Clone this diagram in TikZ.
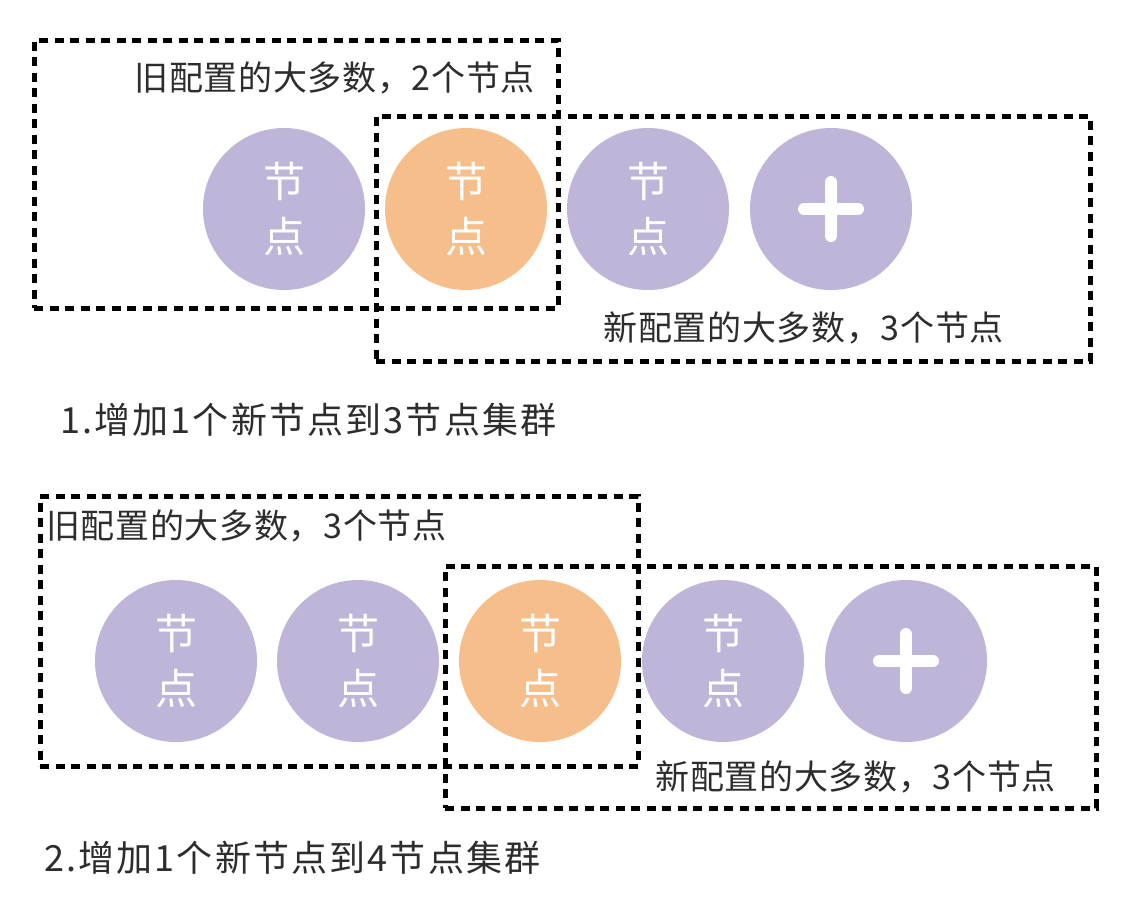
\documentclass[tikz,border=0pt]{standalone}
\usepackage{fontspec}
\setmainfont{Noto Sans CJK SC}
\definecolor{nodepurple}{RGB}{190,181,216}
\definecolor{nodeorange}{RGB}{246,190,139}
\definecolor{ink}{RGB}{45,45,45}
\begin{document}
\begin{tikzpicture}[x=1pt,y=-1pt,
  cnode/.style={circle, minimum size=162pt, inner sep=0pt, text=white, align=center,
     font=\fontsize{42}{55}\selectfont},
  purplenode/.style={cnode, fill=nodepurple},
  orangenode/.style={cnode, fill=nodeorange},
  groupbox/.style={draw=black, line width=4.5pt, dash pattern=on 9pt off 6.5pt},
  lbl/.style={text=ink, inner sep=0pt, font=\fontsize{34}{40}\selectfont\addfontfeatures{LetterSpace=2}},
  captiontext/.style={text=ink, inner sep=0pt, anchor=west, font=\fontsize{36}{40}\selectfont\addfontfeatures{LetterSpace=6}},
  plusmark/.style={draw=white, line width=12pt, line cap=round}
]
\useasboundingbox (0,0) rectangle (1142,906);
\fill[white] (0,0) rectangle (1142,906);

% ---------- part 1 ----------
\node[purplenode] (a1) at (284,209) {节\\点};
\node[orangenode] (a2) at (466,209) {节\\点};
\node[purplenode] (a3) at (648,209) {节\\点};
\node[purplenode] (a4) at (831,209) {};
\draw[plusmark] ([xshift=-27pt]a4.center) -- ([xshift=27pt]a4.center);
\draw[plusmark] ([yshift=-27pt]a4.center) -- ([yshift=27pt]a4.center);

\node[groupbox, minimum width=524pt, minimum height=268pt, anchor=north west] (old1) at (32,38) {};
\node[groupbox, minimum width=714pt, minimum height=245pt, anchor=north west] (new1) at (374,114) {};

\node[lbl, anchor=east] (old1l) at (535,78) {旧配置的大多数，2个节点};
\node[lbl, anchor=east] (new1l) at (1004,328) {新配置的大多数，3个节点};
\node[captiontext] (cap1) at (60,420) {1.增加1个新节点到3节点集群};

% ---------- part 2 ----------
\node[purplenode] (b1) at (176,661) {节\\点};
\node[purplenode] (b2) at (358,661) {节\\点};
\node[orangenode] (b3) at (540,661) {节\\点};
\node[purplenode] (b4) at (723,661) {节\\点};
\node[purplenode] (b5) at (906,661) {};
\draw[plusmark] ([xshift=-27pt]b5.center) -- ([xshift=27pt]b5.center);
\draw[plusmark] ([yshift=-27pt]b5.center) -- ([yshift=27pt]b5.center);

\node[groupbox, minimum width=598pt, minimum height=270pt, anchor=north west] (old2) at (38,494) {};
\node[groupbox, minimum width=651pt, minimum height=242pt, anchor=north west] (new2) at (443,564) {};

\node[lbl, anchor=west] (old2l) at (46,526) {旧配置的大多数，3个节点};
\node[lbl, anchor=east] (new2l) at (1056,777) {新配置的大多数，3个节点};
\node[captiontext] (cap2) at (44,858) {2.增加1个新节点到4节点集群};
\end{tikzpicture}
\end{document}
